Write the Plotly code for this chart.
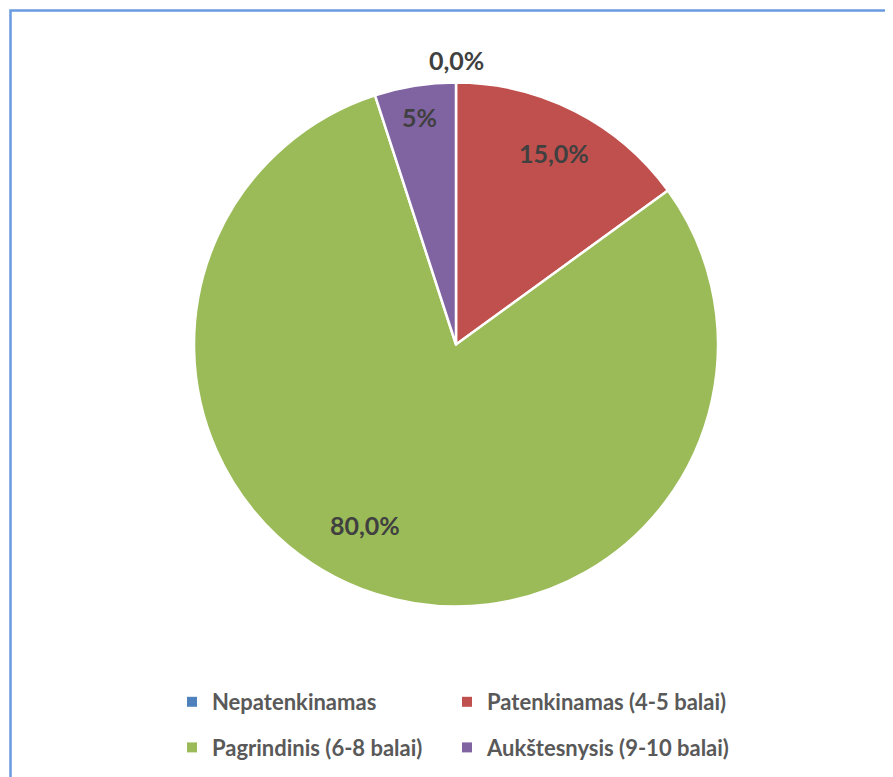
import math
import plotly.graph_objects as go

categories = ["Nepatenkinamas", "Patenkinamas (4-5 balai)", "Pagrindinis (6-8 balai)", "Aukštesnysis (9-10 balai)"]
values = [0.0, 15.0, 80.0, 5.0]
value_labels = ["0,0%", "15,0%", "80,0%", "5%"]
colors = ["#4F81BD", "#C0504D", "#9BBB59", "#8064A2"]

# label placement style (radius as fraction of pie radius, angular nudge in degrees)
label_radius_frac = [1.085, 0.82, 0.77, 0.88]
label_angle_nudge = [0.0, 0.0, 8.7, 0.0]

# page is offset by the 8px body margin, so figure is sized to the remaining window
W, H = 885, 769
cx, cy, R = 448.0, 336.5, 262.0

fig = go.Figure()
fig.add_trace(go.Pie(
    labels=categories,
    values=values,
    textinfo="none",
    sort=False,
    direction="clockwise",
    rotation=0,
    marker=dict(colors=colors, line=dict(color="white", width=2.5)),
    domain=dict(x=[(cx - R) / W, (cx + R) / W], y=[1 - (cy + R) / H, 1 - (cy - R) / H]),
    showlegend=False,
    hovertext=value_labels,
    hoverinfo="label+text",
))

# data labels at slice bisectors
total = sum(values)
annotations = []
cum = 0.0
for v, txt, fr, nd in zip(values, value_labels, label_radius_frac, label_angle_nudge):
    theta = math.radians((cum + v / 2) / total * 360 + nd)
    cum += v
    px = cx + fr * R * math.sin(theta)
    py = cy - fr * R * math.cos(theta)
    annotations.append(dict(
        x=px / W, y=1 - py / H, xref="paper", yref="paper",
        text=txt, showarrow=False, xanchor="center", yanchor="middle",
        font=dict(family="Lato", size=25, color="#404040", weight="bold"),
    ))

# legend entries (two columns)
legend_cols = ["legend", "legend2", "legend", "legend2"]
for i, (cat, col) in enumerate(zip(categories, colors)):
    fig.add_trace(go.Scatter(
        x=[None], y=[None], mode="markers", name=cat,
        marker=dict(symbol="square", size=10, color=col),
        legend=legend_cols[i], legendgroup=f"g{i}", showlegend=True,
    ))

leg_common = dict(
    orientation="v", xanchor="left", yanchor="top",
    font=dict(family="Lato", size=22, color="#595959", weight="bold"),
    bgcolor="rgba(0,0,0,0)", tracegroupgap=14, itemwidth=30,
)
fig.update_layout(
    width=W, height=H,
    margin=dict(l=0, r=0, t=0, b=0),
    paper_bgcolor="white", plot_bgcolor="white",
    xaxis=dict(visible=False), yaxis=dict(visible=False),
    legend=dict(x=164 / W, y=1 - 673 / H, **leg_common),
    legend2=dict(x=439 / W, y=1 - 673 / H, **leg_common),
    annotations=annotations,
    shapes=[
        dict(type="rect", xref="paper", yref="paper",
             x0=2.5 / W, x1=1.05, y0=-0.05, y1=1 - 2.5 / H,
             line=dict(color="#6A9BE0", width=2.5)),
    ],
)

fig.write_html("out.html")
